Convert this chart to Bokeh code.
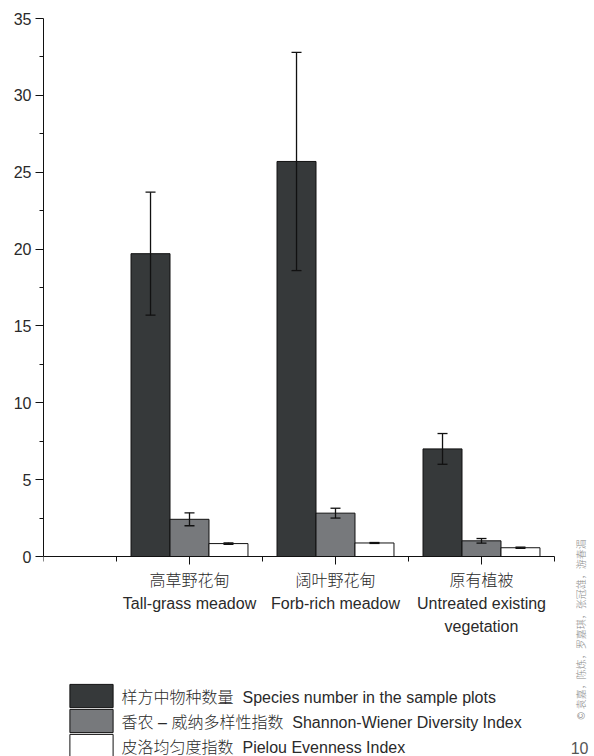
import numpy as np
from bokeh.plotting import figure
from bokeh.models import (Range1d, FixedTicker, Label, Legend, LegendItem,
                          Whisker, TeeHead, ColumnDataSource)
from bokeh.embed import file_html
from bokeh.resources import INLINE

# ---------------- data ----------------
categories_cn = ["高草野花甸", "阔叶野花甸", "原有植被"]
categories_en = ["Tall-grass meadow", "Forb-rich meadow", "Untreated existing\nvegetation"]

series_names = [
    "样方中物种数量  Species number in the sample plots",
    "香农 – 威纳多样性指数  Shannon-Wiener Diversity Index",
    "皮洛均匀度指数  Pielou Evenness Index",
]
species = [19.7, 25.7, 7.0]
species_err = [4.0, 7.1, 1.0]
shannon = [2.42, 2.82, 1.02]
shannon_err = [0.42, 0.32, 0.15]
pielou = [0.84, 0.88, 0.57]
pielou_err = [0.05, 0.03, 0.04]

y_ticks = [0, 5, 10, 15, 20, 25, 30, 35]
y_minor = [2.5, 7.5, 12.5, 17.5, 22.5, 27.5, 32.5]

side_credit = "© 袁嘉，陈炼，罗嘉琪，张冠雄，游春湄"
page_no = "10"

colors = ["#36393a", "#77797c", "#ffffff"]
FONT = "Liberation Sans, Noto Sans CJK SC Light, Noto Sans CJK SC"
FS = "16px"
TEXT_COLOR = "#2a2a2a"

# ---------------- geometry (layout only) ----------------
W, H = 594, 756
LEFT, TOP = 43, 18
PX_PER_UNIT = 538 / 35.0          # vertical scale of the value axis
ZERO_PY = 556                     # page row of value 0
Y_MIN = -(H - ZERO_PY) / PX_PER_UNIT
X_MAX = (W - LEFT) / 146.0


def sy(py):
    """screen offset measured from the frame bottom"""
    return H - py


p = figure(width=W, height=H, output_backend="svg", toolbar_location=None,
           x_range=Range1d(0, X_MAX), y_range=Range1d(Y_MIN, 35),
           x_axis_location="above",
           min_border_left=LEFT, min_border_right=0, min_border_top=TOP,
           min_border_bottom=0)
p.outline_line_color = None
p.grid.visible = False
p.background_fill_color = "white"
p.border_fill_color = "white"

bar_w = 0.267
offsets = [-bar_w, 0.0, bar_w]
all_vals = [species, shannon, pielou]
all_errs = [species_err, shannon_err, pielou_err]

renderers = []
for j in range(3):
    vals = np.array(all_vals[j])
    errs = np.array(all_errs[j])
    xs = [i + 1 + offsets[j] for i in range(len(categories_cn))]
    src = ColumnDataSource(dict(x=xs, top=vals, upper=vals + errs, lower=vals - errs))
    r = p.vbar(x="x", top="top", bottom=0, width=bar_w, source=src,
               fill_color=colors[j], line_color="#111111", line_width=1)
    renderers.append(r)
    w = Whisker(source=src, base="x", upper="upper", lower="lower", level="overlay",
                line_color="#111111", line_width=1.3,
                upper_head=TeeHead(size=10, line_color="#111111", line_width=1.3),
                lower_head=TeeHead(size=10, line_color="#111111", line_width=1.3))
    p.add_layout(w)

# ---------------- axes ----------------
ya = p.yaxis[0]
ya.ticker = FixedTicker(ticks=y_ticks, minor_ticks=y_minor)
ya.bounds = (0, 35)
ya.major_tick_in = 0
ya.major_tick_out = 8
ya.minor_tick_in = 0
ya.minor_tick_out = 4
ya.major_label_standoff = 4
ya.major_label_text_font = FONT
ya.major_label_text_font_size = FS
ya.major_label_text_color = TEXT_COLOR
ya.axis_line_color = "#111111"
ya.major_tick_line_color = "#111111"
ya.minor_tick_line_color = "#111111"

xa = p.xaxis[0]
xa.fixed_location = 0
xa.bounds = (0, 3.5)
xa.ticker = FixedTicker(ticks=[1, 2, 3], minor_ticks=[0, 0.5, 1.5, 2.5, 3.5])
xa.major_tick_in = 8       # axis sits "above", so "in" points downward
xa.major_tick_out = 0
xa.minor_tick_in = 5
xa.minor_tick_out = 0
xa.major_label_overrides = {1: "", 2: "", 3: ""}
xa.major_label_standoff = 0
xa.axis_line_color = "#111111"
xa.major_tick_line_color = "#111111"
xa.minor_tick_line_color = "#111111"

# ---------------- category labels ----------------
for i, (cn, en) in enumerate(zip(categories_cn, categories_en)):
    p.add_layout(Label(x=i + 1, y=sy(579.5), y_units="screen", text=cn,
                       text_align="center", text_baseline="middle",
                       text_font=FONT, text_font_size=FS, text_color=TEXT_COLOR))
    for k, line in enumerate(en.split("\n")):
        p.add_layout(Label(x=i + 1, y=sy(603 + 22.5 * k), y_units="screen", text=line,
                           text_align="center", text_baseline="middle",
                           text_font=FONT, text_font_size=FS, text_color=TEXT_COLOR))

# ---------------- legend (one block per row for exact row pitch) ----------------
for j in range(3):
    box_top = 684 + 25 * j
    legend = Legend(items=[LegendItem(label=series_names[j], renderers=[renderers[j]])],
                    location=(69 - 5.4 - LEFT, sy(box_top + 26.1)), orientation="vertical",
                    glyph_width=54, glyph_height=29, spacing=0, padding=0, margin=0,
                    label_standoff=4, label_text_font=FONT, label_text_font_size=FS,
                    label_text_color=TEXT_COLOR, border_line_color=None,
                    background_fill_alpha=0)
    p.add_layout(legend)

# ---------------- side texts ----------------
p.add_layout(Label(x=580.5 - LEFT, y=sy(719), x_units="screen", y_units="screen",
                   text=side_credit, angle=np.pi / 2, text_align="left",
                   text_baseline="middle", text_font=FONT,
                   text_font_size="10px", text_color="#8a8a8a"))
p.add_layout(Label(x=588 - LEFT, y=sy(747.5), x_units="screen", y_units="screen",
                   text=page_no, text_align="right", text_baseline="middle",
                   text_font=FONT, text_font_size="16px", text_color="#555555"))

open("out.html", "w").write(file_html(p, INLINE))
